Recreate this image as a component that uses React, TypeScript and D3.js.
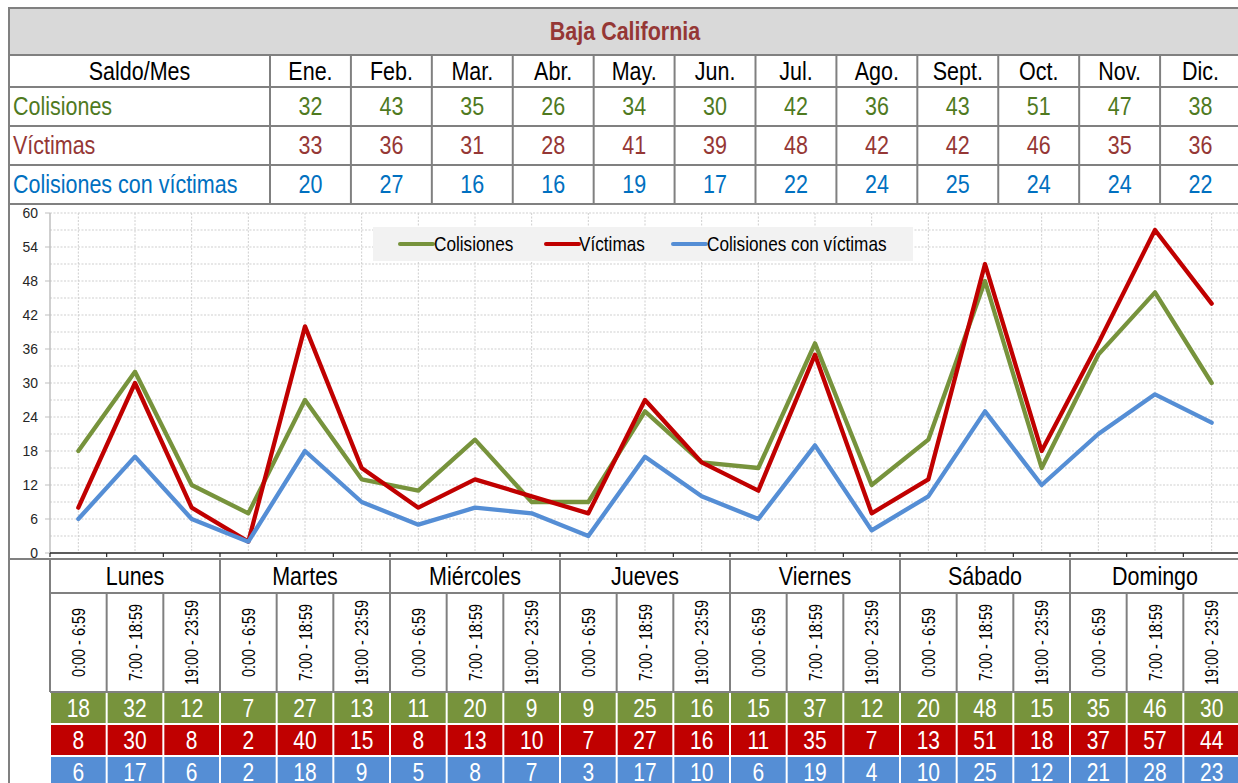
import React from "react";
import * as d3 from "d3";

const months = ["Ene.", "Feb.", "Mar.", "Abr.", "May.", "Jun.", "Jul.", "Ago.", "Sept.", "Oct.", "Nov.", "Dic."];
const monthColisiones = [32, 43, 35, 26, 34, 30, 42, 36, 43, 51, 47, 38];
const monthVictimas = [33, 36, 31, 28, 41, 39, 48, 42, 42, 46, 35, 36];
const monthConVictimas = [20, 27, 16, 16, 19, 17, 22, 24, 25, 24, 24, 22];

const days = ["Lunes", "Martes", "Miércoles", "Jueves", "Viernes", "Sábado", "Domingo"];
const slots = ["0:00 - 6:59", "7:00 - 18:59", "19:00 - 23:59"];
const colisiones = [18, 32, 12, 7, 27, 13, 11, 20, 9, 9, 25, 16, 15, 37, 12, 20, 48, 15, 35, 46, 30];
const victimas = [8, 30, 8, 2, 40, 15, 8, 13, 10, 7, 27, 16, 11, 35, 7, 13, 51, 18, 37, 57, 44];
const conVictimas = [6, 17, 6, 2, 18, 9, 5, 8, 7, 3, 17, 10, 6, 19, 4, 10, 25, 12, 21, 28, 23];
const yTicks = [0, 6, 12, 18, 24, 30, 36, 42, 48, 54, 60];

const FONT = "'Liberation Sans', Arial, sans-serif";
const GRAY = "#808080";
const GREEN = "#77933C";
const RED = "#C00000";
const BLUE = "#558ED5";
const TXT_GREEN = "#4F7A1F";
const TXT_RED = "#953735";
const TXT_BLUE = "#0070C0";
const S = 0.86;

function T(props: {
  x: number; y: number; size: number; sx?: number; rot?: number; anchor?: string;
  fill?: string; weight?: string; children: React.ReactNode;
}) {
  const { x, y, size, sx = S, rot = 0, anchor = "middle", fill = "#000", weight = "normal", children } = props;
  return (
    <text
      transform={`translate(${x},${y})${rot ? ` rotate(${rot})` : ""} scale(${sx},1)`}
      textAnchor={anchor}
      dominantBaseline="central"
      fontSize={size}
      fontWeight={weight}
      fill={fill}
    >
      {children}
    </text>
  );
}

export default function App() {
  const W = 1238, H = 783;
  const L = 9, R = 1241;
  const firstColR = 270;
  const rowsY = [55, 87, 126, 165, 204];
  const mx = d3.scaleBand<string>().domain(months).range([firstColR, R]);

  const cats = colisiones.map((_, i) => `${days[Math.floor(i / 3)]}|${slots[i % 3]}`);
  const x = d3.scaleBand<string>().domain(cats).range([50, 1240]);
  const dx = d3.scaleBand<string>().domain(days).range([50, 1240]);
  const y = d3.scaleLinear().domain([0, 60]).range([553, 213]);

  const series = [
    { name: "Colisiones", values: colisiones, color: GREEN },
    { name: "Víctimas", values: victimas, color: RED },
    { name: "Colisiones con víctimas", values: conVictimas, color: BLUE },
  ];
  const line = d3.line<number>()
    .x((_, i) => (x(cats[i]) as number) + x.bandwidth() / 2)
    .y((d) => y(d));

  const monthRows = [
    { name: "Colisiones", values: monthColisiones, color: TXT_GREEN },
    { name: "Víctimas", values: monthVictimas, color: TXT_RED },
    { name: "Colisiones con víctimas", values: monthConVictimas, color: TXT_BLUE },
  ];

  const minorTicks = d3.range(3, 61, 3);
  const bY = [559, 593, 692, 724, 756, 788];
  const legendItems = [
    { name: "Colisiones", color: GREEN, sx: 400, tx: 434 },
    { name: "Víctimas", color: RED, sx: 546, tx: 579 },
    { name: "Colisiones con víctimas", color: BLUE, sx: 673, tx: 707 },
  ];

  return (
    <svg width={W} height={H} style={{ position: "absolute", left: 0, top: 0, background: "#fff" }} fontFamily={FONT}>
      {/* Title band */}
      <rect x={L} y={8} width={R - L} height={47} fill="#D9D9D9" />
      <T x={(L + R) / 2} y={31.5} size={25} weight="bold" fill={TXT_RED}>Baja California</T>

      {/* Top table */}
      <T x={(L + firstColR) / 2} y={71} size={25}>Saldo/Mes</T>
      {months.map((m) => (
        <T key={m} x={(mx(m) as number) + mx.bandwidth() / 2} y={71} size={25}>{m}</T>
      ))}
      {monthRows.map((r, ri) => {
        const cy = (rowsY[ri + 1] + rowsY[ri + 2]) / 2;
        return (
          <g key={r.name}>
            <T x={13} y={cy} size={25} anchor="start" fill={r.color}>{r.name}</T>
            {r.values.map((v, i) => (
              <T key={i} x={(mx(months[i]) as number) + mx.bandwidth() / 2} y={cy} size={25} fill={r.color}>{v}</T>
            ))}
          </g>
        );
      })}
      {rowsY.map((ry) => (
        <line key={ry} x1={L} x2={R} y1={ry} y2={ry} stroke={GRAY} strokeWidth={2} />
      ))}
      <line x1={L} x2={R} y1={8} y2={8} stroke={GRAY} strokeWidth={2} />
      <line x1={firstColR} x2={firstColR} y1={55} y2={204} stroke={GRAY} strokeWidth={2} />
      {months.map((m) => (
        <line key={m} x1={(mx(m) as number) + mx.bandwidth()} x2={(mx(m) as number) + mx.bandwidth()} y1={55} y2={204} stroke={GRAY} strokeWidth={2} />
      ))}

      {/* Chart grid */}
      {minorTicks.map((t) => (
        <line key={t} x1={50} x2={1240} y1={y(t)} y2={y(t)} stroke="#CFCFCF" strokeWidth={1} strokeDasharray="2,1.5" />
      ))}
      {cats.map((c) => (
        <line key={c} x1={(x(c) as number) + x.bandwidth() / 2} x2={(x(c) as number) + x.bandwidth() / 2} y1={213} y2={553} stroke="#CFCFCF" strokeWidth={1} strokeDasharray="2,1.5" />
      ))}
      <line x1={50} x2={50} y1={213} y2={553} stroke="#BFBFBF" strokeWidth={1.5} />
      {yTicks.map((t) => (
        <g key={t}>
          <line x1={45} x2={50} y1={y(t)} y2={y(t)} stroke="#BFBFBF" strokeWidth={1} />
          <T x={38} y={y(t)} size={15} sx={0.93} anchor="end" fill="#262626">{t}</T>
        </g>
      ))}
      <line x1={50} x2={1240} y1={553} y2={553} stroke="#262626" strokeWidth={1.5} />
      {cats.map((c) => (
        <line key={c} x1={(x(c) as number)} x2={(x(c) as number)} y1={553} y2={557} stroke="#262626" strokeWidth={1.2} />
      ))}

      {/* Legend */}
      <rect x={373} y={227} width={540} height={34} fill="#F2F2F2" />
      {legendItems.map((l) => (
        <g key={l.name}>
          <line x1={l.sx} x2={l.sx + 33} y1={244} y2={244} stroke={l.color} strokeWidth={4} strokeLinecap="round" />
          <T x={l.tx} y={244} size={20} anchor="start">{l.name}</T>
        </g>
      ))}

      {/* Lines */}
      {series.map((s) => (
        <path key={s.name} d={line(s.values) as string} fill="none" stroke={s.color} strokeWidth={4.3} strokeLinejoin="round" strokeLinecap="round" />
      ))}

      {/* Bottom table */}
      <line x1={L} x2={R} y1={bY[0]} y2={bY[0]} stroke={GRAY} strokeWidth={2} />
      <line x1={50} x2={R} y1={bY[1]} y2={bY[1]} stroke={GRAY} strokeWidth={2} />
      <line x1={50} x2={R} y1={bY[2]} y2={bY[2]} stroke={GRAY} strokeWidth={2} />
      {days.map((d) => (
        <g key={d}>
          <T x={(dx(d) as number) + dx.bandwidth() / 2} y={576} size={25}>{d}</T>
          <line x1={dx(d) as number} x2={dx(d) as number} y1={bY[0]} y2={bY[2]} stroke={GRAY} strokeWidth={2} />
        </g>
      ))}
      {cats.map((c, i) => {
        const cx = (x(c) as number) + x.bandwidth() / 2;
        return (
          <g key={c}>
            {i % 3 !== 0 && <line x1={x(c) as number} x2={x(c) as number} y1={bY[1]} y2={bY[2]} stroke={GRAY} strokeWidth={2} />}
            <T x={cx} y={642.5} rot={-90} size={18} sx={0.8}>{slots[i % 3]}</T>
          </g>
        );
      })}
      {series.map((s, si) => (
        <g key={s.name}>
          {s.values.map((v, i) => {
            const x0 = x(cats[i]) as number;
            const y0 = bY[2 + si] + 1;
            return (
              <g key={i}>
                <rect x={x0 + 1} y={y0} width={x.bandwidth() - 2} height={bY[3 + si] - bY[2 + si] - 2} fill={s.color} />
                <T x={x0 + x.bandwidth() / 2} y={(bY[2 + si] + bY[3 + si]) / 2} size={25} sx={0.84} fill="#fff">{v}</T>
              </g>
            );
          })}
        </g>
      ))}

      {/* Outer left border */}
      <line x1={L} x2={L} y1={7} y2={H} stroke={GRAY} strokeWidth={2} />
    </svg>
  );
}
